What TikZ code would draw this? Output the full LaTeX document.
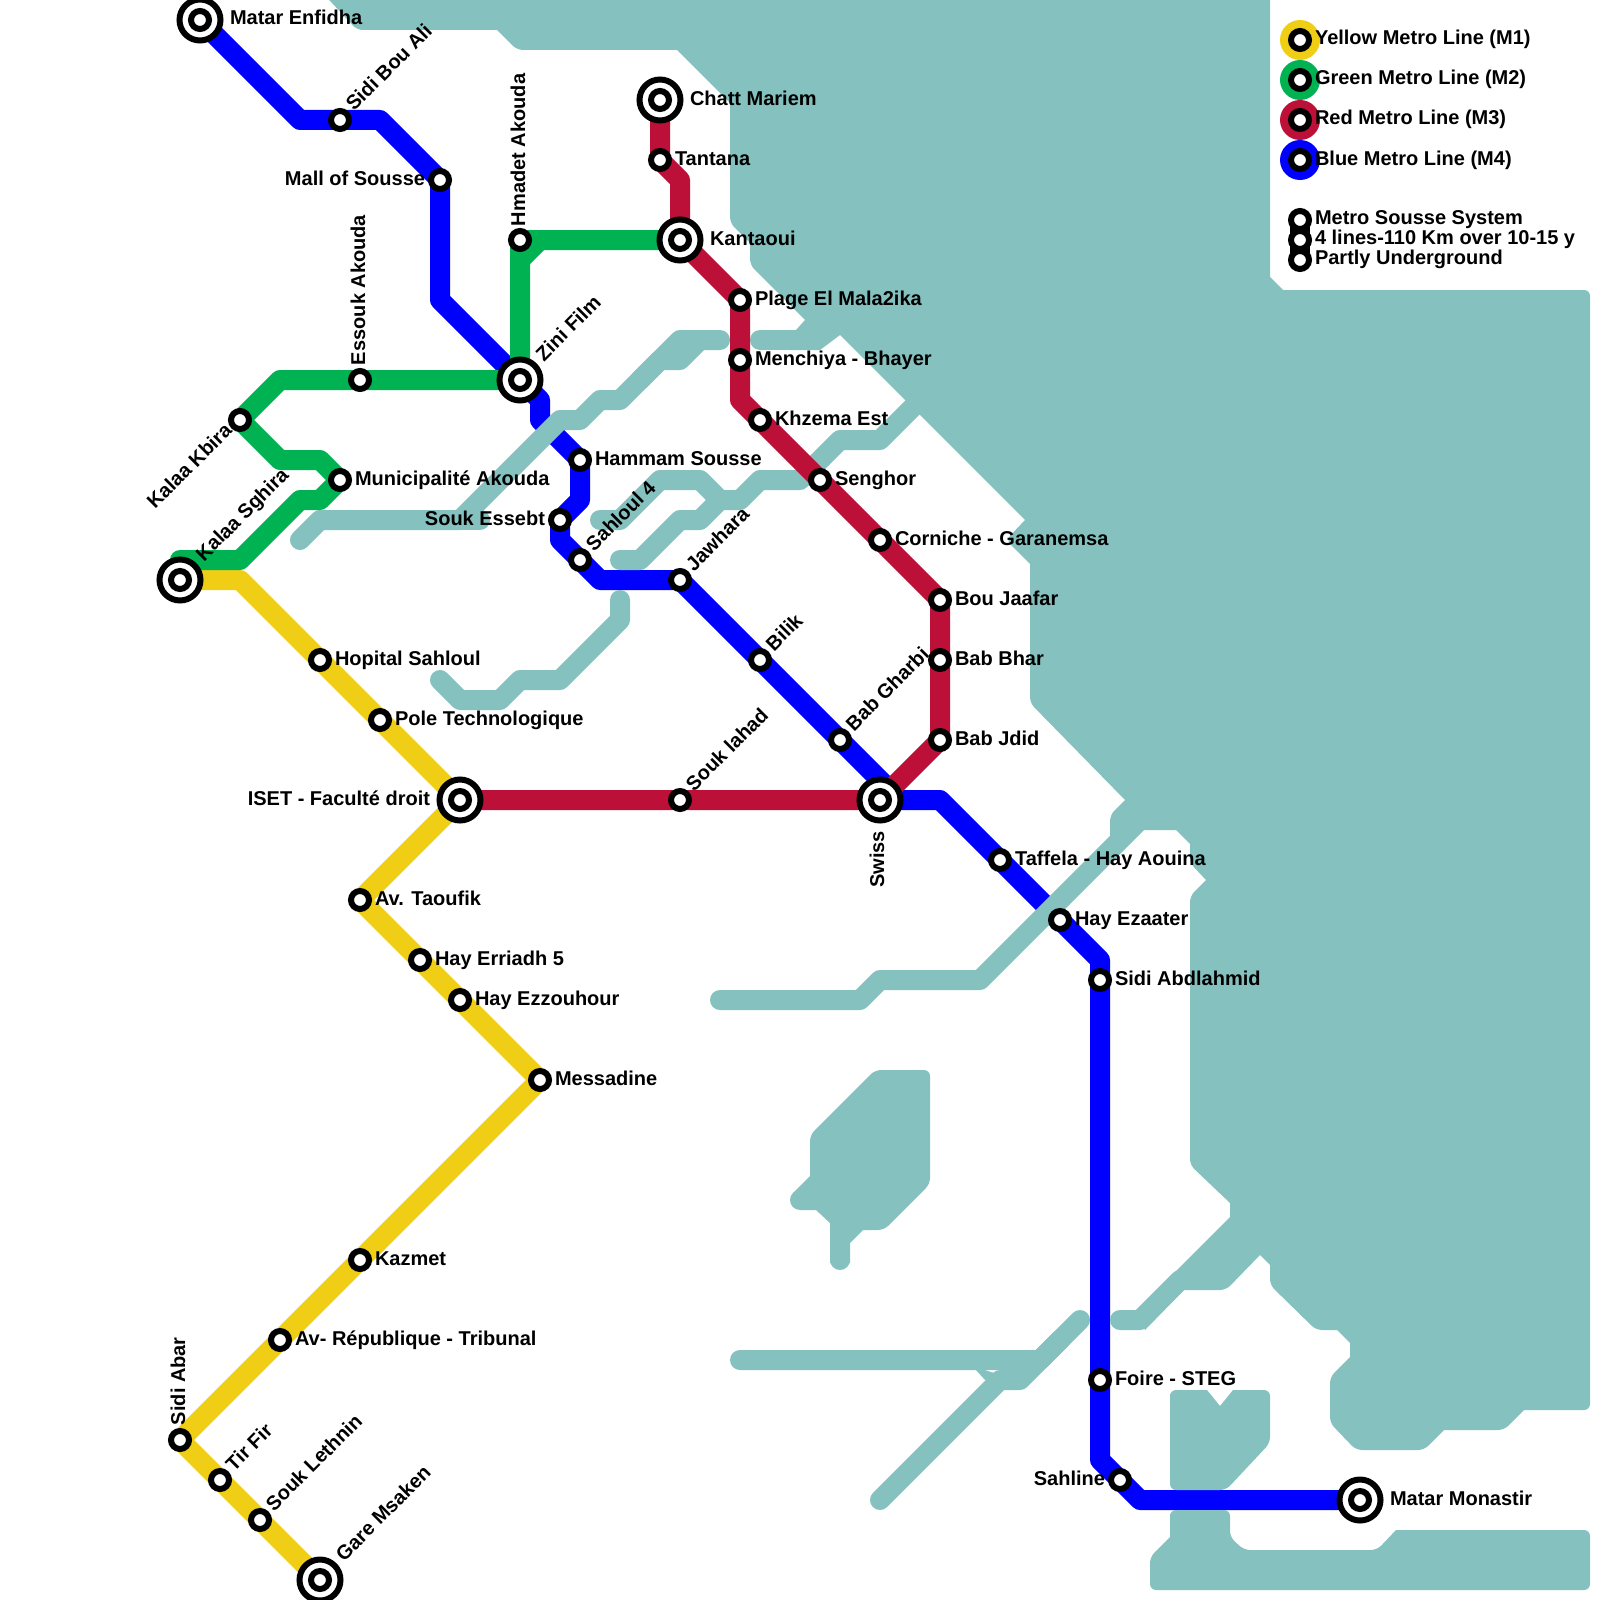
\documentclass[tikz,border=0pt]{standalone}
\usepackage{fontspec}
\setmainfont{Liberation Sans}
\definecolor{seac}{HTML}{85C1BF}
\definecolor{ym}{HTML}{F0CE15}
\definecolor{gm}{HTML}{00B251}
\definecolor{rm}{HTML}{BD1038}
\definecolor{bm}{HTML}{0000FF}
\pgfdeclarelayer{lblue}
\pgfdeclarelayer{lwater}
\pgfdeclarelayer{llines}
\pgfsetlayers{lblue,lwater,llines,main}
\tikzset{
  stn/.style={circle,draw=black,fill=white,line width=3pt,minimum size=9pt,inner sep=0pt,outer sep=0pt},
  stnbig/.style={circle,draw=black,fill=white,line width=3pt,minimum size=20.5pt,inner sep=0pt,outer sep=0pt},
  legdot/.style={circle,minimum size=20pt,inner sep=0pt,outer sep=0pt},
  lbl/.style={font=\fontsize{10}{12}\selectfont\bfseries,inner sep=0pt,outer sep=0pt,text=black},
  rt/.style={anchor=base west},
  lf/.style={anchor=base east},
  dg/.style={rotate=45,anchor=base west},
  dgl/.style={rotate=45,anchor=base east},
  vt/.style={rotate=90,anchor=base west},
  vte/.style={rotate=90,anchor=base east},
  metro/.style={line width=10pt,line join=round,line cap=butt},
  wat/.style={draw=seac,line width=10pt,line join=round,line cap=round},
  rc/.style={rounded corners=3pt},
  sc/.style={sharp corners},
}
\newcommand\stnn[3]{\node[stn] (#1) at (#2,#3) {};}
\newcommand\itcn[3]{\node[stnbig] (#1) at (#2,#3) {};\node[stn] (#1i) at (#2,#3) {};}
\newcommand\lab[6]{\node[lbl,#5] (#1) at ([shift={(#3,#4)}]#2.center) {#6};}
\begin{document}
\begin{tikzpicture}[x=0.5pt,y=-0.5pt]
\useasboundingbox (0,0) rectangle (1600,1600);
\clip (0,0) rectangle (1600,1600);
% stations
\itcn{matar}{200}{20}
\stnn{sidibou}{340}{120}
\stnn{mall}{440}{180}
\itcn{zini}{520}{380}
\stnn{hammam}{580}{460}
\stnn{essebt}{560}{520}
\stnn{sahloul}{580}{560}
\stnn{jawhara}{680}{580}
\stnn{bilik}{760}{660}
\stnn{gharbi}{840}{740}
\itcn{swiss}{880}{800}
\stnn{taffela}{1000}{860}
\stnn{ezaater}{1060}{920}
\stnn{abdlahmid}{1100}{980}
\stnn{foire}{1100}{1380}
\stnn{sahline}{1120}{1480}
\itcn{monastir}{1360}{1500}
\itcn{sghira}{180}{580}
\stnn{municip}{340}{480}
\stnn{kbira}{240}{420}
\stnn{essouk}{360}{380}
\stnn{hmadet}{520}{240}
\itcn{kantaoui}{680}{240}
\itcn{chatt}{660}{100}
\stnn{tantana}{660}{160}
\stnn{plage}{740}{300}
\stnn{menchiya}{740}{360}
\stnn{khzema}{760}{420}
\stnn{senghor}{820}{480}
\stnn{corniche}{880}{540}
\stnn{jaafar}{940}{600}
\stnn{bhar}{940}{660}
\stnn{jdid}{940}{740}
\stnn{iahad}{680}{800}
\itcn{iset}{460}{800}
\stnn{hopital}{320}{660}
\stnn{pole}{380}{720}
\stnn{taoufik}{360}{900}
\stnn{erriadh}{420}{960}
\stnn{ezzouhour}{460}{1000}
\stnn{messadine}{540}{1080}
\stnn{kazmet}{360}{1260}
\stnn{repub}{280}{1340}
\stnn{abar}{180}{1440}
\stnn{tirfir}{220}{1480}
\stnn{lethnin}{260}{1520}
\itcn{msaken}{320}{1580}
% labels
\lab{lmatar}{matar}{30}{5}{rt}{Matar Enfidha}
\lab{lsidibou}{sidibou}{14}{-8}{dg}{Sidi Bou Ali}
\lab{lmall}{mall}{-15}{5}{lf}{Mall of Sousse}
\lab{lzini}{zini}{24}{-18}{dg}{Zini Film}
\lab{lhammam}{hammam}{15}{5}{rt}{Hammam Sousse}
\lab{lessebt}{essebt}{-15}{5}{lf}{Souk Essebt}
\lab{lsahloul}{sahloul}{14}{-8}{dg}{Sahloul 4}
\lab{ljawhara}{jawhara}{14}{-8}{dg}{Jawhara}
\lab{lbilik}{bilik}{14}{-8}{dg}{Bilik}
\lab{lgharbi}{gharbi}{14}{-8}{dg}{Bab Gharbi}
\lab{lswiss}{swiss}{4}{31}{vte}{Swiss}
\lab{ltaffela}{taffela}{15}{5}{rt}{Taffela - Hay Aouina}
\lab{lezaater}{ezaater}{15}{5}{rt}{Hay Ezaater}
\lab{labdlahmid}{abdlahmid}{15}{5}{rt}{Sidi Abdlahmid}
\lab{lfoire}{foire}{15}{5}{rt}{Foire - STEG}
\lab{lsahline}{sahline}{-15}{5}{lf}{Sahline}
\lab{lmonastir}{monastir}{30}{5}{rt}{Matar Monastir}
\lab{lsghira}{sghira}{24}{-18}{dg}{Kalaa Sghira}
\lab{lmunicip}{municip}{15}{5}{rt}{Municipalité Akouda}
\lab{lkbira}{kbira}{-7}{12}{dgl}{Kalaa Kbira}
\lab{lessouk}{essouk}{5}{-15}{vt}{Essouk Akouda}
\lab{lhmadet}{hmadet}{5}{-14}{vt}{Hmadet Akouda}
\lab{lkantaoui}{kantaoui}{30}{5}{rt}{Kantaoui}
\lab{lchatt}{chatt}{30}{5}{rt}{Chatt Mariem}
\lab{ltantana}{tantana}{15}{5}{rt}{Tantana}
\lab{lplage}{plage}{15}{5}{rt}{Plage El Mala2ika}
\lab{lmenchiya}{menchiya}{15}{5}{rt}{Menchiya - Bhayer}
\lab{lkhzema}{khzema}{15}{5}{rt}{Khzema Est}
\lab{lsenghor}{senghor}{15}{5}{rt}{Senghor}
\lab{lcorniche}{corniche}{15}{5}{rt}{Corniche - Garanemsa}
\lab{ljaafar}{jaafar}{15}{5}{rt}{Bou Jaafar}
\lab{lbhar}{bhar}{15}{5}{rt}{Bab Bhar}
\lab{ljdid}{jdid}{15}{5}{rt}{Bab Jdid}
\lab{liahad}{iahad}{14}{-8}{dg}{Souk lahad}
\lab{liset}{iset}{-30}{5}{lf}{ISET - Faculté droit}
\lab{lhopital}{hopital}{15}{5}{rt}{Hopital Sahloul}
\lab{lpole}{pole}{15}{5}{rt}{Pole Technologique}
\lab{ltaoufik}{taoufik}{15}{5}{rt}{Av. Taoufik}
\lab{lerriadh}{erriadh}{15}{5}{rt}{Hay Erriadh 5}
\lab{lezzouhour}{ezzouhour}{15}{5}{rt}{Hay Ezzouhour}
\lab{lmessadine}{messadine}{15}{5}{rt}{Messadine}
\lab{lkazmet}{kazmet}{15}{5}{rt}{Kazmet}
\lab{lrepub}{repub}{15}{5}{rt}{Av- République - Tribunal}
\lab{labar}{abar}{5}{-15}{vt}{Sidi Abar}
\lab{ltirfir}{tirfir}{14}{-8}{dg}{Tir Fir}
\lab{llethnin}{lethnin}{14}{-8}{dg}{Souk Lethnin}
\lab{lmsaken}{msaken}{24}{-18}{dg}{Gare Msaken}
% legend
\node[legdot,fill=ym] (legy) at (1300,40) {};
\node[legdot,fill=gm] (legg) at (1300,80) {};
\node[legdot,fill=rm] (legr) at (1300,120) {};
\node[legdot,fill=bm] (legb) at (1300,160) {};
\stnn{ly}{1300}{40}
\stnn{lg}{1300}{80}
\stnn{lr}{1300}{120}
\stnn{lb}{1300}{160}
\lab{tly}{ly}{15}{5}{rt}{Yellow Metro Line (M1)}
\lab{tlg}{lg}{15}{5}{rt}{Green Metro Line (M2)}
\lab{tlr}{lr}{15}{5}{rt}{Red Metro Line (M3)}
\lab{tlb}{lb}{15}{5}{rt}{Blue Metro Line (M4)}
\stnn{la}{1300}{220}
\stnn{lc}{1300}{240}
\stnn{ld}{1300}{260}
\lab{tla}{la}{15}{4}{rt}{Metro Sousse System}
\lab{tlc}{lc}{15}{4}{rt}{4 lines-110 Km over 10-15 y}
\lab{tld}{ld}{15}{4}{rt}{Partly Underground}
% blue line
\begin{pgfonlayer}{lblue}
\draw[metro,bm] (matar.center) -- (300,120) -- (sidibou.center) -- (380,120) -- (mall.center) -- (440,300) -- (zini.center) -- (540,400) -- (540,420) -- (hammam.center) -- (580,500) -- (essebt.center) -- (560,540) -- (sahloul.center) -- (600,580) -- (jawhara.center) -- (bilik.center) -- (gharbi.center) -- (900,800) -- (940,800) -- (taffela.center) -- (ezaater.center) -- (1100,960) -- (abdlahmid.center) -- (foire.center) -- (1100,1460) -- (sahline.center) -- (1140,1500) -- (monastir.center);
\end{pgfonlayer}
% water
\begin{pgfonlayer}{lwater}
\fill[seac] (320,-10) [rc] -- (357,30) [sc] -- (497,30) [rc] -- (517,50) [sc] -- (677,50) [sc] -- (730,103) [rc] -- (730,223) [sc] -- (750,243) [rc] -- (750,265) [sc] -- (805,320) [sc] -- (796,330) -- (790,330) -- (790,350) -- (820,350) -- (840,335) [sc] -- (1025,520) [rc] -- (1006,540) [sc] -- (1030,564) [rc] -- (1030,703) [sc] -- (1125,800) [rc] -- (1110,815) [sc] -- (1110,836) -- (1144,830) [sc] -- (1176,830) [sc] -- (1190,844) [rc] -- (1190,863) [sc] -- (1206,880) [rc] -- (1190,896) [rc] -- (1190,1165) [sc] -- (1230,1203) [sc] -- (1230,1217) [sc] -- (1137,1310) -- (1145,1330) [sc] -- (1184,1290) [rc] -- (1226,1290) [sc] -- (1260,1255) [sc] -- (1270,1265) [rc] -- (1270,1285) [rc] -- (1316,1330) [sc] -- (1337,1330) [sc] -- (1350,1343) [sc] -- (1350,1357) [rc] -- (1330,1377) [rc] -- (1330,1423) [rc] -- (1356,1450) [rc] -- (1424,1450) [sc] -- (1444,1430) [rc] -- (1504,1430) [sc] -- (1524,1410) [rc] -- (1590,1410) [rc] -- (1590,290) [sc] -- (1283,290) [sc] -- (1270,277) -- (1270,-10) -- cycle;
\coordinate (w1) at (760,340);
\coordinate (w2) at (790,340);
\draw[wat] (w1) -- (w2);
\draw[wat] (1120,1320) -- (1140,1320) -- (1180,1280);
% Senghor and Sahloul strips
\draw[wat] (920,400) -- (880,440) -- (840,440) -- (800,480) -- (760,480) -- (740,500) -- (720,500) -- (700,520) -- (680,520) -- (640,560) -- (620,560);
\draw[wat] (720,500) -- (700,480) -- (660,480) -- (620,520) -- (600,520);
\draw[wat] (720,340) -- (680,340) -- (620,400) -- (600,400) -- (580,420) -- (560,420) -- (460,520) -- (320,520) -- (300,540);
\draw[wat] (700,340) -- (680,360) -- (660,360) -- (640,380);
\draw[wat] (460,520) -- (480,520);
\draw[wat] (620,600) -- (620,620) -- (560,680) -- (520,680) -- (500,700) -- (460,700) -- (440,680);
\draw[wat] (720,1000) -- (860,1000) -- (880,980) -- (980,980) -- (1140,820);
\draw[wat] (740,1360) -- (1040,1360) -- (1080,1320);
\draw[wat] (880,1500) -- (1000,1380) -- (1020,1380) -- (1060,1340);
\fill[seac] (970,1365) -- (976,1370) -- (985,1380) -- (1000,1375) -- cycle;
% lake
\fill[seac] (875,1070) [rc] -- (930,1070) [rc] -- (930,1184) [rc] -- (884,1230) [sc] -- (863,1230) [sc] -- (850,1243) -- (850,1263) -- (830,1263) [sc] -- (830,1223) [sc] -- (816,1210) -- (800,1210) -- (793,1193) [sc] -- (810,1176) [rc] -- (810,1135) [rc] -- cycle;
\draw[wat] (840,1230) -- (840,1260);
\draw[wat] (800,1200) -- (815,1200);
% islands
\fill[seac] (1170,1400) [rc] -- (1170,1390) [sc] -- (1207,1390) [sc] -- (1220,1406) [sc] -- (1233,1390) [rc] -- (1270,1390) [rc] -- (1270,1443) [rc] -- (1226,1490) [rc] -- (1170,1490) [rc] -- cycle;
\fill[seac] (1170,1520) [rc] -- (1170,1510) [rc] -- (1230,1510) [rc] -- (1230,1537) [rc] -- (1244,1550) [rc] -- (1377,1550) [sc] -- (1396,1530) [rc] -- (1590,1530) [rc] -- (1590,1590) [rc] -- (1150,1590) [rc] -- (1150,1557) [sc] -- (1170,1537) [rc] -- cycle;
\end{pgfonlayer}
% other lines
\begin{pgfonlayer}{llines}
\draw[metro,ym] (sghira.center) -- (240,580) -- (hopital.center) -- (pole.center) -- (iset.center) -- (taoufik.center) -- (erriadh.center) -- (ezzouhour.center) -- (messadine.center) -- (kazmet.center) -- (repub.center) -- (abar.center) -- (tirfir.center) -- (lethnin.center) -- (msaken.center);
\draw[metro,gm] (sghira.center) -- (180,560) -- (240,560) -- (300,500) -- (320,500) -- (municip.center) -- (320,460) -- (280,460) -- (kbira.center) -- (280,380) -- (essouk.center) -- (zini.center) -- (hmadet.center) -- (kantaoui.center);
\draw[metro,gm] (520,260) -- (540,240);
\draw[metro,rm] (chatt.center) -- (tantana.center) -- (680,180) -- (kantaoui.center) -- (plage.center) -- (menchiya.center) -- (740,400) -- (khzema.center) -- (senghor.center) -- (corniche.center) -- (jaafar.center) -- (bhar.center) -- (jdid.center) -- (swiss.center) -- (iahad.center) -- (iset.center);
\draw[line width=10pt,black] (la.center) -- (ld.center);
\end{pgfonlayer}
\end{tikzpicture}
\end{document}
